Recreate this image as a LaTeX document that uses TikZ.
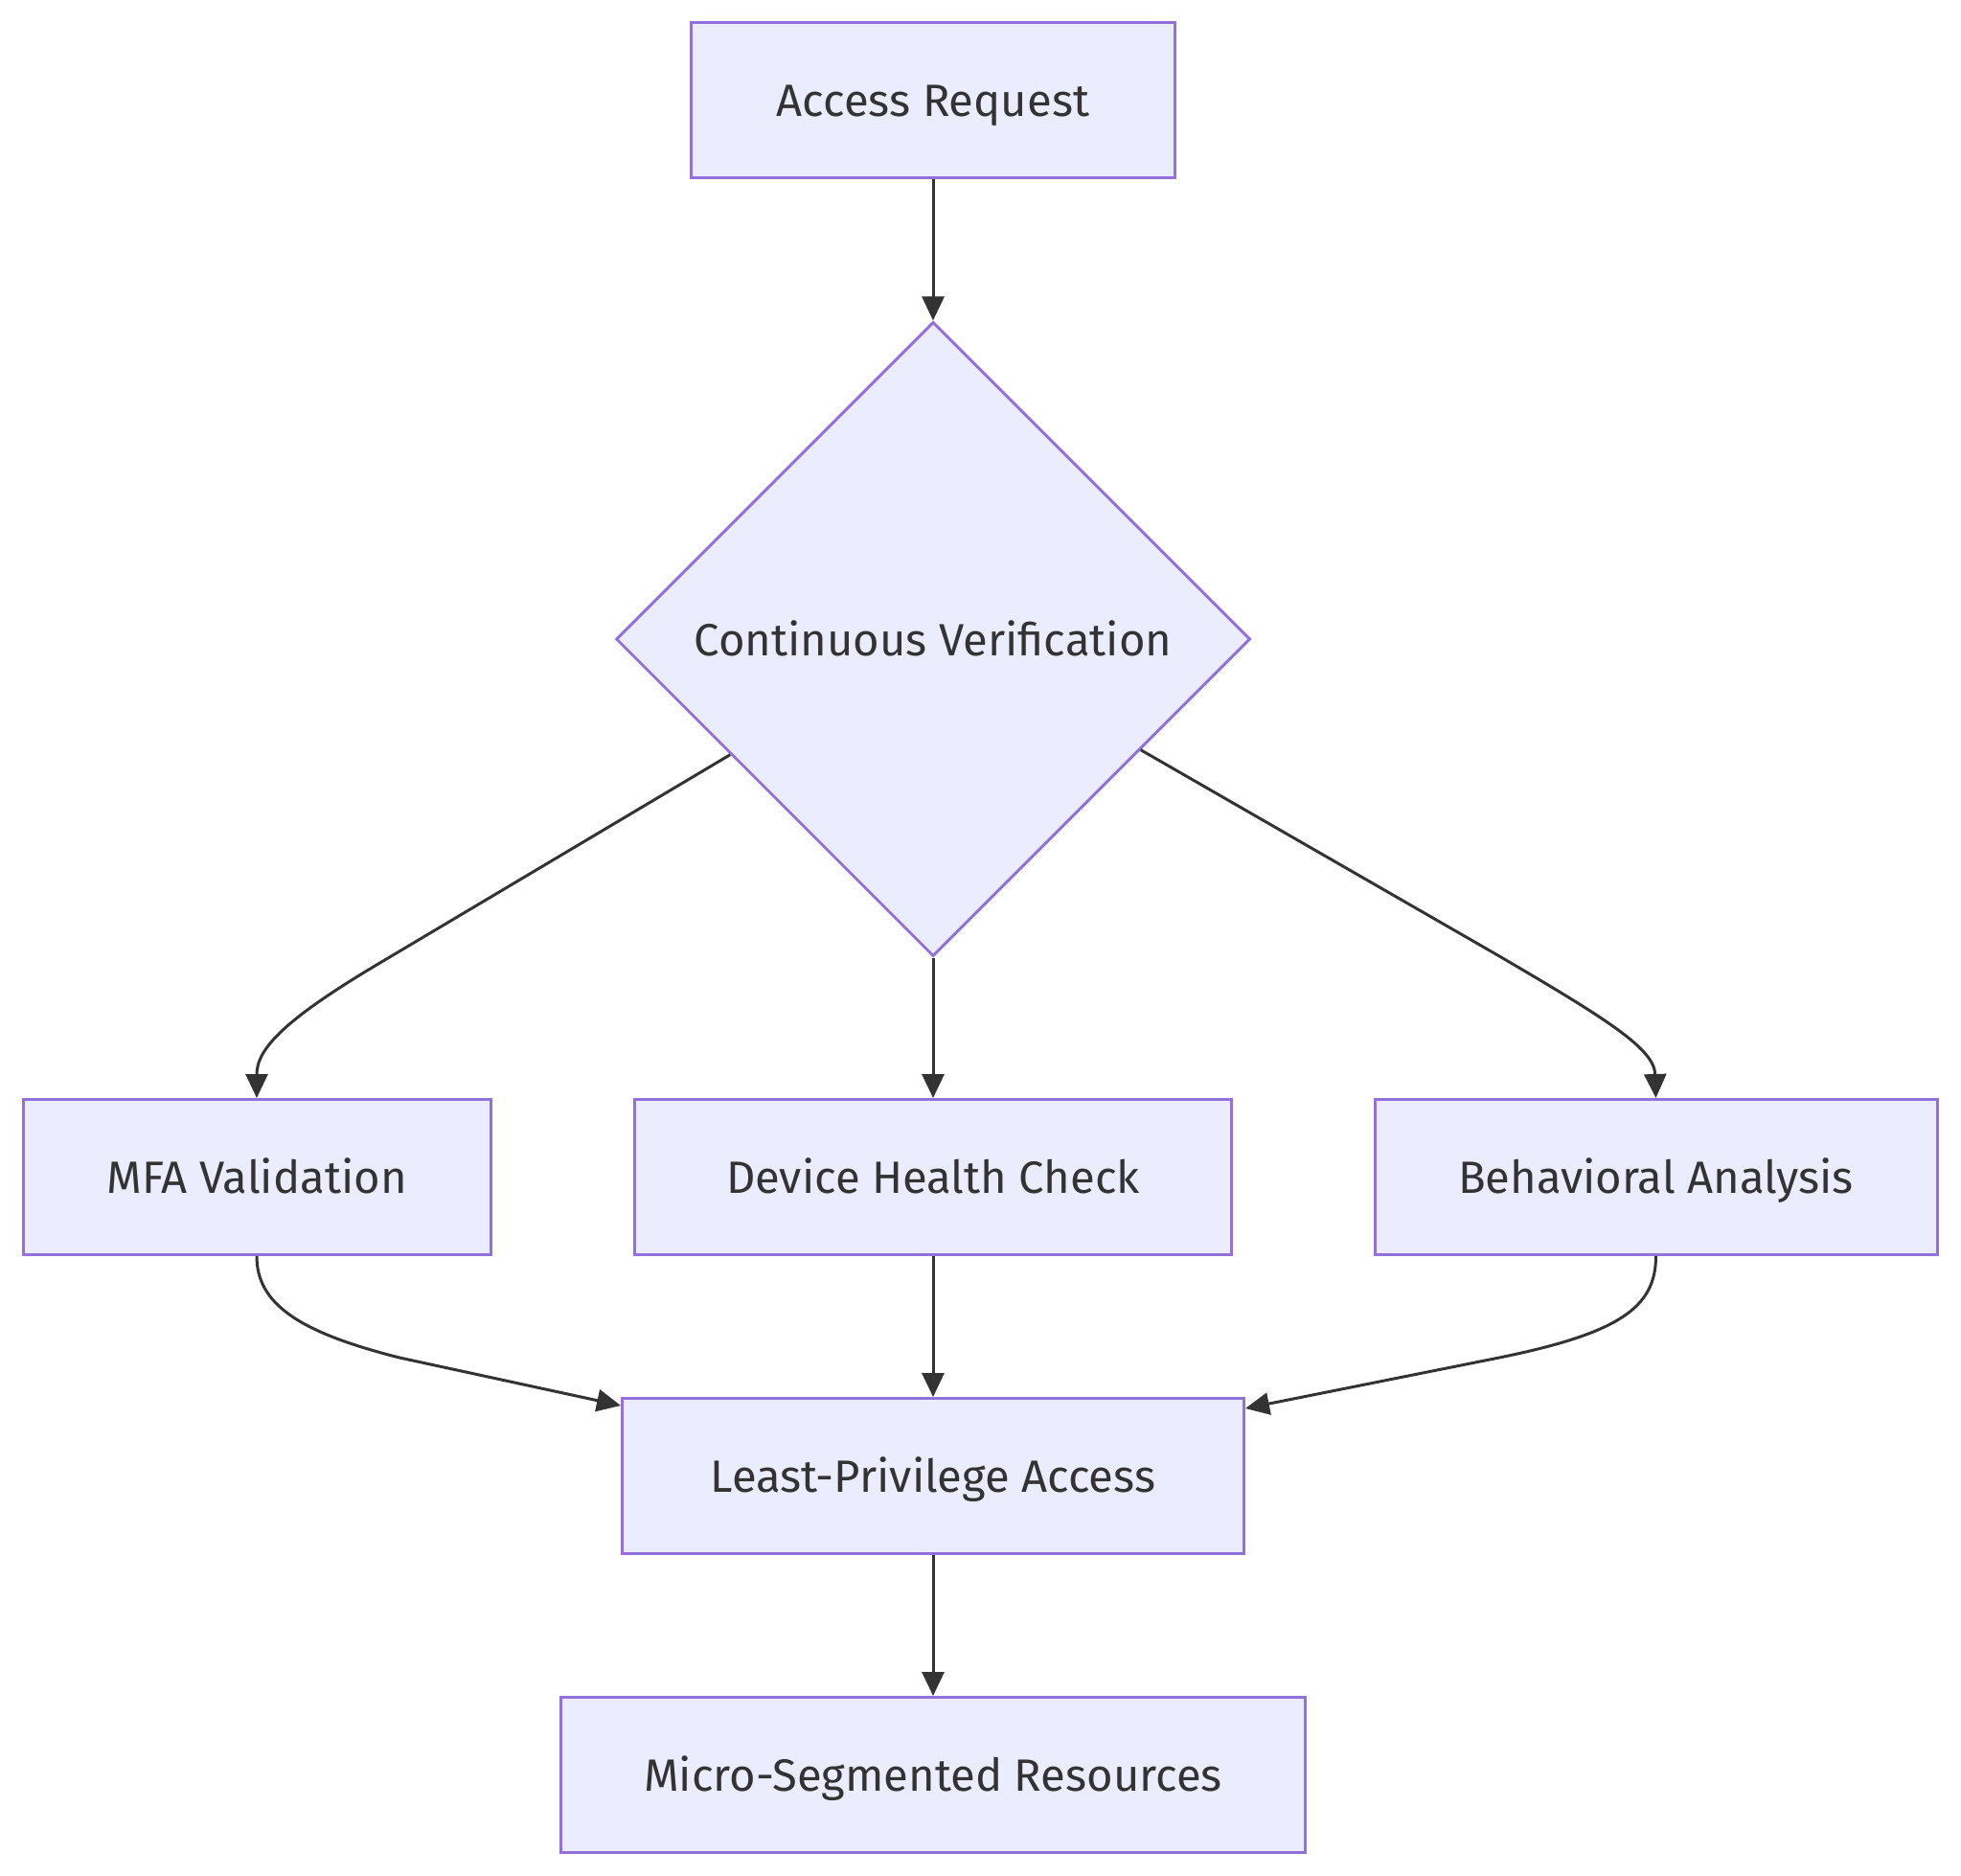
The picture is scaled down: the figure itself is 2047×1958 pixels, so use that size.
\documentclass[tikz,border=0pt]{standalone}
\usepackage{fontspec}
\setmainfont{Fira Sans}
\usetikzlibrary{shapes.geometric,arrows.meta,calc}
\definecolor{nodefill}{HTML}{ECECFF}
\definecolor{nodeline}{HTML}{9370DB}
\definecolor{edgecol}{HTML}{333333}
\definecolor{textcol}{HTML}{333333}
\tikzset{
  lbl/.style={text=textcol,font=\fontsize{23.6}{28}\selectfont,text height=17pt,text depth=0pt},
  box/.style={lbl,rectangle,draw=nodeline,fill=nodefill,line width=1.5pt,inner sep=0pt,minimum height=81pt},
  decision/.style={lbl,diamond,draw=nodeline,fill=nodefill,line width=1.5pt,inner sep=0pt,minimum width=331pt,minimum height=331pt,aspect=1},
  edge/.style={draw=edgecol,line width=1.5pt,-{Triangle[length=12.5pt,width=11.5pt]}}
}
\begin{document}
\begin{tikzpicture}[x=0.5pt,y=-0.5pt]
\useasboundingbox (0,0) rectangle (2047,1958);
\node[box,minimum width=252.5pt] (ar) at (974,104.5) {Access Request};
\node[decision] (cv) at (974,667) {Continuous Verification};
\node[box,minimum width=244pt] (mfa) at (268,1228.5) {MFA Validation};
\node[box,minimum width=311.5pt] (dh) at (974,1228.5) {Device Health Check};
\node[box,minimum width=293.5pt] (ba) at (1728.5,1228.5) {Behavioral Analysis};
\node[box,minimum width=324.5pt] (lp) at (974,1540.5) {Least-Privilege Access};
\node[box,minimum width=388.5pt] (ms) at (974,1852.5) {Micro-Segmented Resources};
\coordinate (bl) at (405,1000);
\coordinate (br) at (1560,995);
\coordinate (ml) at (417,1417);
\coordinate (mr) at (1560,1418);
\draw[edge] (ar) -- (cv.north);
\draw[edge] ($(cv.west)!0.363!(cv.south)$) -- (bl) .. controls (295,1064.5) and (268,1095) .. (mfa.north);
\draw[edge] (cv.south) -- (dh.north);
\draw[edge] ($(cv.east)!0.348!(cv.south)$) -- (br) .. controls (1680,1065) and (1727,1095) .. (ba.north);
\draw[edge] (mfa.south) .. controls (268,1360) and (310,1390) .. (ml) -- ($(lp.north west)+(0,9)$);
\draw[edge] (dh) -- (lp);
\draw[edge] (ba.south) .. controls (1728.5,1365) and (1690,1392) .. (mr) -- ($(lp.north east)+(0,12)$);
\draw[edge] (lp) -- (ms);
\end{tikzpicture}
\end{document}
